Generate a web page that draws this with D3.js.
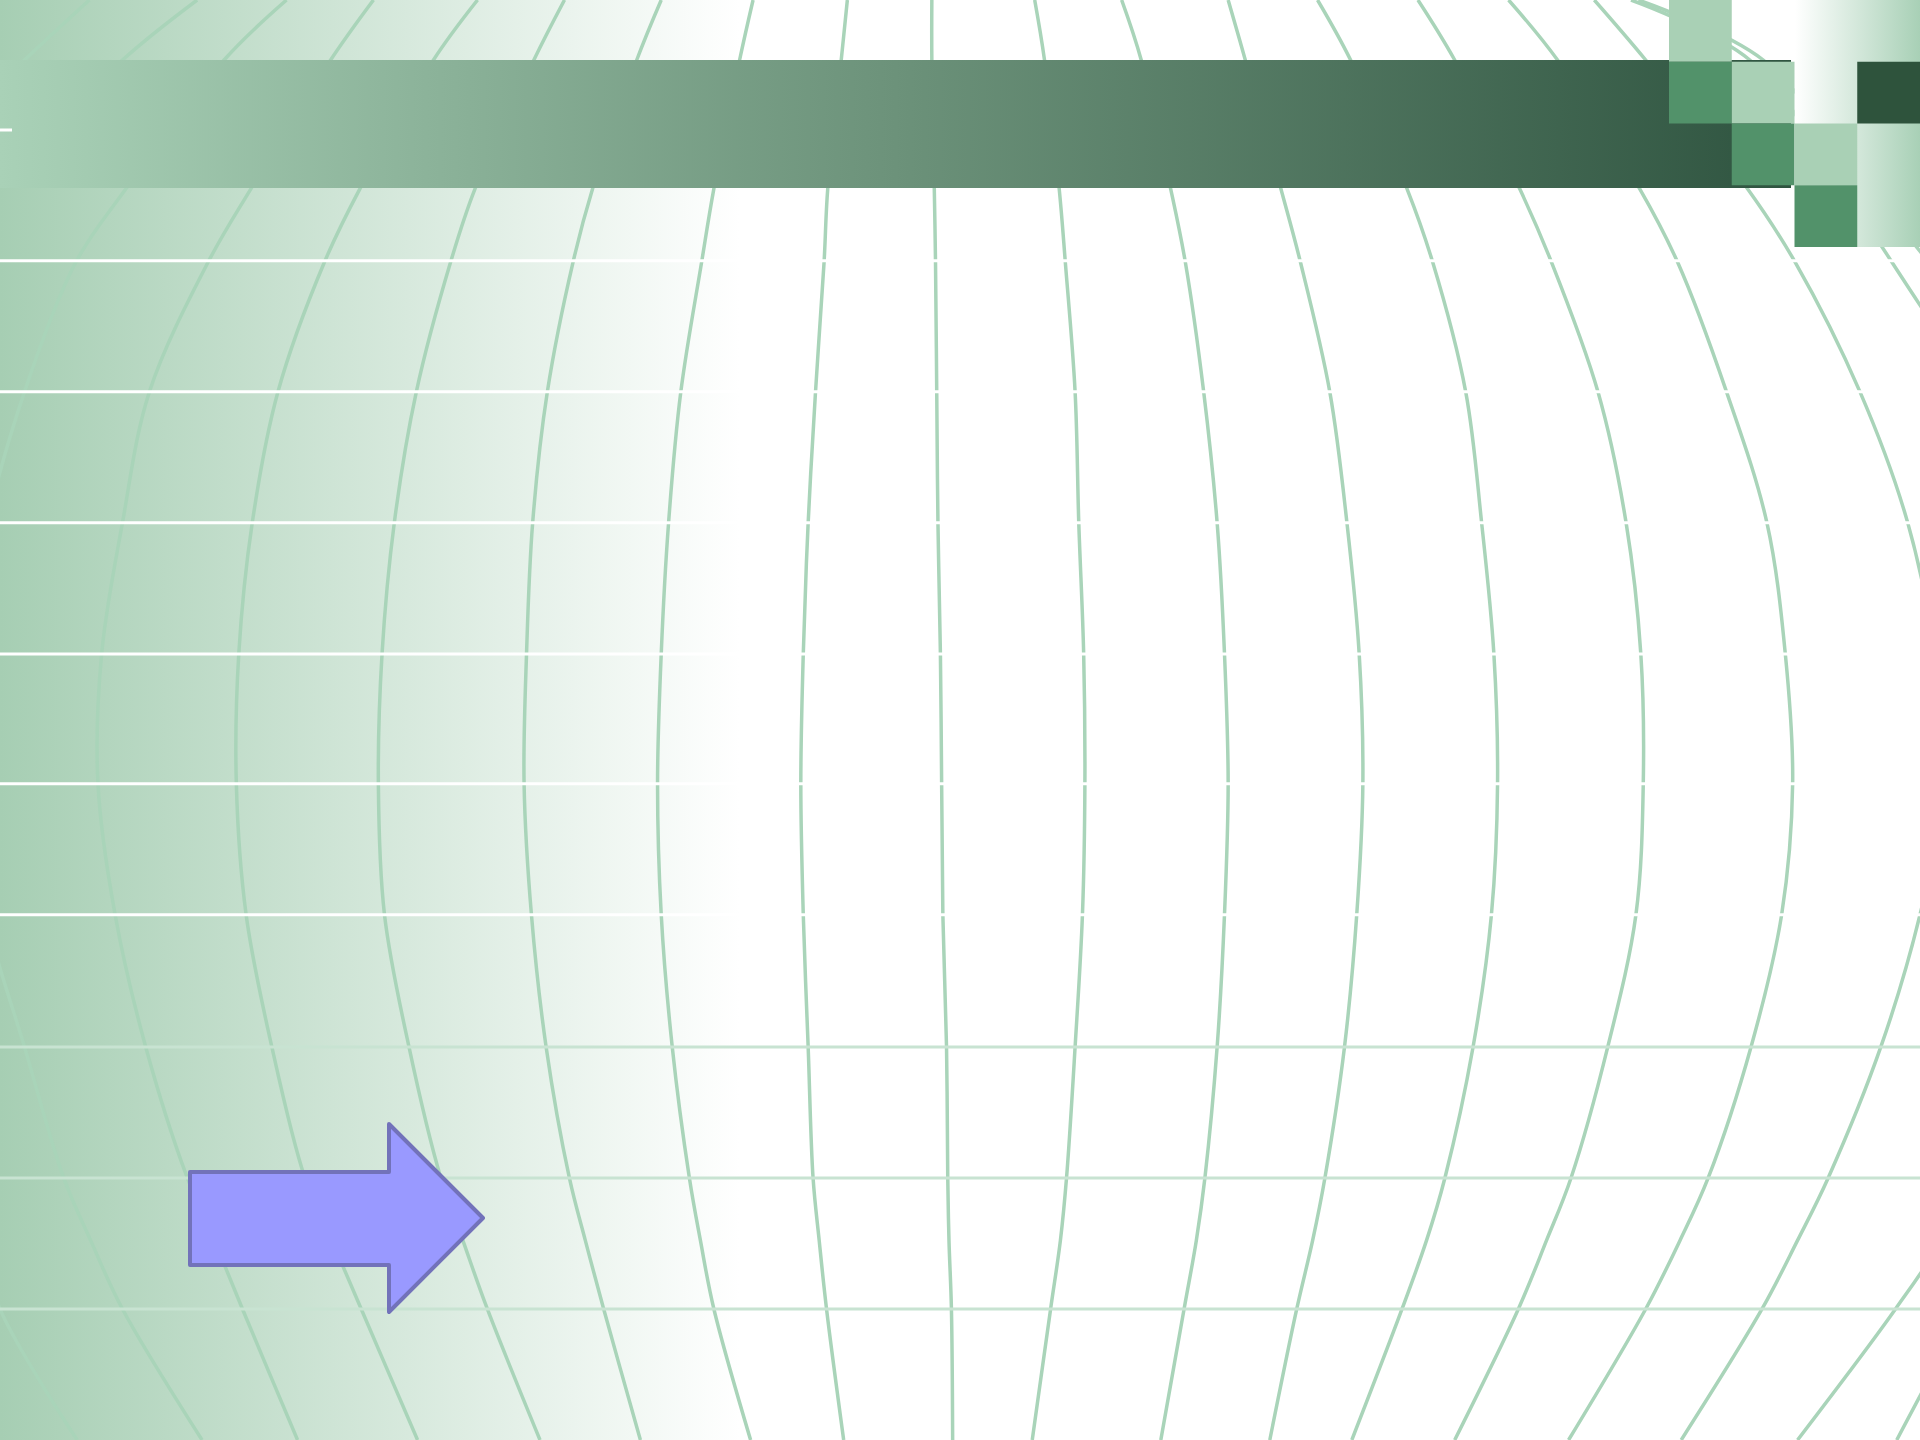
<!DOCTYPE html>
<html>
<head>
<meta charset="utf-8">
<script src="https://cdn.jsdelivr.net/npm/d3@7"></script>
<style>
  html, body { margin: 0; padding: 0; background: #fff; }
  svg { display: block; }
</style>
</head>
<body>
<svg id="slide" width="1920" height="1440"></svg>
<script>
const levels = [0, 49, 154, 214, 320, 427, 534, 640, 747, 855, 962, 1013, 1069, 1176];

// x of each meridian at every level, left to right
const meridianL9 = [73, 20, -90, -140, -190, -220, -240, -245, -235, -200, -150, -120, -90, -30];
const meridianL8 = [161, 100, -5, -50, -90, -120, -135, -140, -130, -100, -40, -15, 0, 63];
const meridianL7 = [234, 183, 103, 62, 20, -10, -25, -30, -12, 20, 52, 74, 100, 165];
const meridianL6 = [305, 270, 205, 170, 122, 100, 83, 80, 94, 119, 153, 175, 198, 243];
const meridianL5 = [390, 354, 294, 265, 227, 206, 195, 193, 201, 222, 249, 271, 295, 341];
const meridianL4 = [461, 436, 388, 368, 340, 322, 312, 309, 314, 334, 360, 378, 398, 441];
const meridianL3 = [540, 520, 484, 468, 447, 435, 430, 428, 434, 446, 465, 478, 493, 523];
const meridianL2 = [615, 604, 583, 573, 556, 546, 540, 537, 540, 549, 563, 572, 583, 613];
const meridianL1 = [692, 687, 676, 673, 666, 660, 656, 654, 656, 660, 664, 669, 675, 689];
const meridianC  = [761, 761, 763, 764, 765, 766, 768, 769, 770, 773, 774, 775, 777, 778];
const meridianR1 = [845, 853, 865, 870, 878, 881, 885, 886, 884, 878, 871, 866, 858, 843];
const meridianR2 = [916, 932, 956, 968, 983, 994, 1000, 1003, 1000, 994, 984, 977, 967, 948];
const meridianR3 = [1003, 1017, 1046, 1062, 1086, 1100, 1110, 1113, 1108, 1098, 1082, 1072, 1059, 1037];
const meridianR4 = [1076, 1103, 1149, 1170, 1197, 1210, 1220, 1223, 1218, 1203, 1180, 1165, 1145, 1104];
const meridianR5 = [1158, 1188, 1241, 1267, 1305, 1328, 1340, 1342, 1336, 1313, 1283, 1263, 1240, 1188];
const meridianR6 = [1232, 1272, 1339, 1370, 1410, 1443, 1458, 1464, 1455, 1430, 1395, 1372, 1344, 1281];
const meridianR7 = [1302, 1344, 1427, 1466, 1519, 1558, 1580, 1588, 1568, 1536, 1493, 1468, 1439, 1373];
const meridianR8 = [1332, 1429, 1505, 1545, 1610, 1650, 1670, 1675, 1665, 1640, 1605, 1585, 1548, 1468];
const meridianR9 = [1338, 1440, 1525, 1575, 1650, 1700, 1730, 1740, 1730, 1700, 1660, 1632, 1605, 1549];

const meridians = [meridianL9, meridianL8, meridianL7, meridianL6, meridianL5, meridianL4,
  meridianL3, meridianL2, meridianL1, meridianC, meridianR1, meridianR2, meridianR3,
  meridianR4, meridianR5, meridianR6, meridianR7, meridianR8, meridianR9];

// horizontal rules (picture units)
const whiteRules = [213, 320, 427, 534, 640, 747];
const greenRules = [855, 962, 1069];

// the checker block in the top right corner: column, row, tone
const tiles = [
  [0, 0, "light"], [0, 1, "mid"], [1, 1, "light"], [1, 2, "mid"],
  [2, 2, "light"], [2, 3, "mid"], [3, 1, "dark"]
];

const W = 1920, H = 1440;
const svg = d3.select("#slide");

const x = d3.scaleLinear().domain([0, 1568]).range([0, W]);
const y = d3.scaleLinear().domain([0, 1176]).range([0, H]);

const defs = svg.append("defs");

function hGradient(id, stops, x1, x2) {
  const g = defs.append("linearGradient")
    .attr("id", id)
    .attr("gradientUnits", "userSpaceOnUse")
    .attr("x1", x1).attr("x2", x2)
    .attr("y1", 0).attr("y2", 0);
  stops.forEach(s => g.append("stop").attr("offset", s[0]).attr("stop-color", s[1]));
}

hGradient("bg", [[0, "#a6ceb3"], [1, "#ffffff"]], 0, 740);
hGradient("bar", [[0, "#a9d1b7"], [0.5, "#6c927a"], [1, "#2f5440"]], 0, 1791);
hGradient("corner", [[0, "#ffffff"], [1, "#a8d0b6"]], 1795, 1920);

svg.append("rect").attr("width", W).attr("height", H).attr("fill", "#fff");
svg.append("rect").attr("width", 760).attr("height", H).attr("fill", "url(#bg)");

// meridians
const line = d3.line()
  .x(d => x(d[0]))
  .y(d => y(d[1]))
  .curve(d3.curveCatmullRom.alpha(0.5));

svg.append("g")
  .attr("fill", "none")
  .attr("stroke", "#a9d4b9")
  .attr("stroke-width", 3.5)
  .selectAll("path")
  .data(meridians)
  .join("path")
  .attr("d", m => line(m.map((v, i) => [v, levels[i]])));

// rules
svg.append("g")
  .attr("stroke", "#ffffff")
  .attr("stroke-width", 3)
  .selectAll("line")
  .data(whiteRules)
  .join("line")
  .attr("x1", 0).attr("x2", W)
  .attr("y1", d => y(d)).attr("y2", d => y(d));

svg.append("g")
  .attr("stroke", "#c8e3d2")
  .attr("stroke-width", 3)
  .selectAll("line")
  .data(greenRules)
  .join("line")
  .attr("x1", 0).attr("x2", W)
  .attr("y1", d => y(d)).attr("y2", d => y(d));

// title bar
svg.append("rect")
  .attr("x", 0).attr("y", 60)
  .attr("width", 1791).attr("height", 128)
  .attr("fill", "url(#bar)");

svg.append("line")
  .attr("x1", 0).attr("x2", 12)
  .attr("y1", 130).attr("y2", 130)
  .attr("stroke", "#fff").attr("stroke-width", 3);

// corner blocks
const colX = d3.scaleBand().domain([0, 1, 2, 3]).range([1669, 1920]);
const rowY = d3.scaleBand().domain([0, 1, 2, 3]).range([0, 247]);
const tone = { light: "#a9d0b5", mid: "#52926a", dark: "#2e533c" };

svg.append("rect")
  .attr("x", colX(2)).attr("y", 0)
  .attr("width", W - colX(2)).attr("height", 247)
  .attr("fill", "url(#corner)");

svg.append("g")
  .selectAll("rect")
  .data(tiles)
  .join("rect")
  .attr("x", d => colX(d[0]))
  .attr("y", d => rowY(d[1]))
  .attr("width", colX.bandwidth())
  .attr("height", rowY.bandwidth())
  .attr("fill", d => tone[d[2]]);

// block arrow
const arrow = d3.path();
arrow.moveTo(190, 1172);
arrow.lineTo(389, 1172);
arrow.lineTo(389, 1124);
arrow.lineTo(483, 1218);
arrow.lineTo(389, 1312);
arrow.lineTo(389, 1265);
arrow.lineTo(190, 1265);
arrow.closePath();

svg.append("path")
  .attr("d", arrow.toString())
  .attr("fill", "#9999ff")
  .attr("stroke", "#7272ba")
  .attr("stroke-width", 4)
  .attr("stroke-linejoin", "round");
</script>
</body>
</html>
